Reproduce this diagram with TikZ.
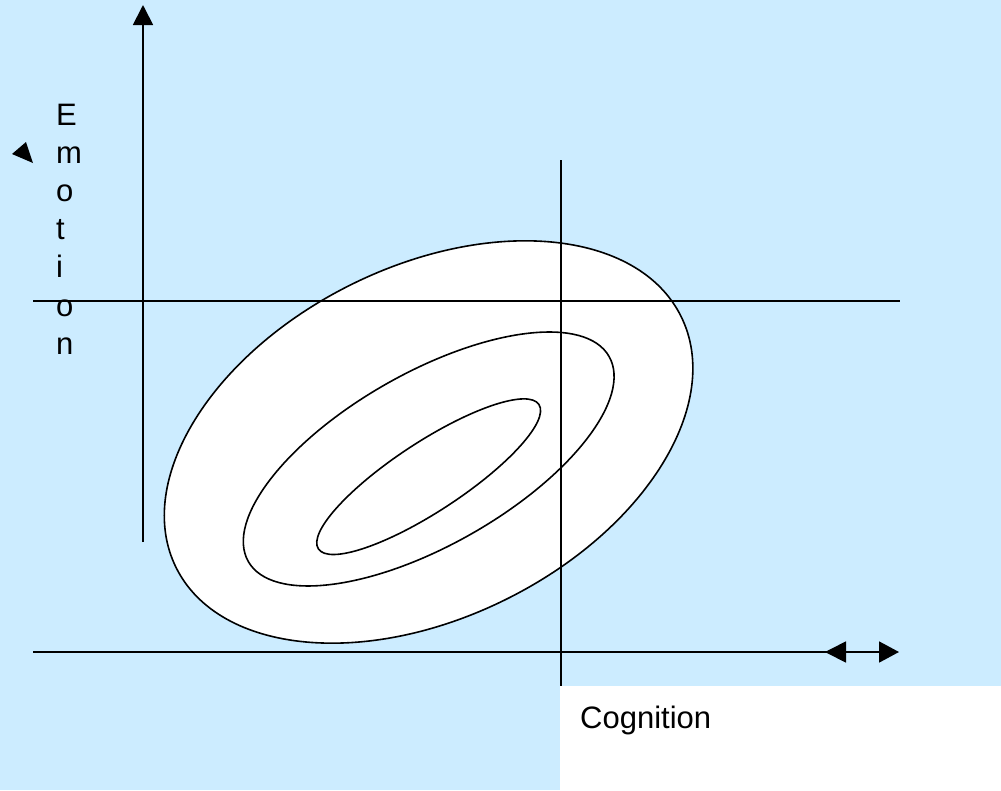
\documentclass[tikz,border=0pt]{standalone}
\usepackage{fontspec}
\setmainfont{Liberation Sans}
\usetikzlibrary{arrows.meta}
\definecolor{bgblue}{RGB}{204,236,255}
\tikzset{
  axisline/.style={line width=1.8pt, black},
  tri/.style={-{Triangle[length=20pt,width=20pt]}},
  ring/.style={line width=1.6pt, draw=black, fill=white},
  lbl/.style={font=\fontsize{31}{36}\selectfont, inner sep=0pt, anchor=base west},
}
\begin{document}
\begin{tikzpicture}[x=1pt,y=-1pt]
\useasboundingbox (0,0) rectangle (1001,790);
\fill[bgblue] (0,0) rectangle (1001,790);
% ellipses
\coordinate (c1) at (428.6,442);
\coordinate (c2) at (428.7,459);
\coordinate (c3) at (428.7,476.7);
\draw[ring, rotate around={26.5:(c1)}] (c1) ellipse [x radius=282pt, y radius=175.4pt];
\draw[ring, rotate around={29.6:(c2)}] (c2) ellipse [x radius=207.5pt, y radius=86.2pt];
\draw[ring, rotate around={33.2:(c3)}] (c3) ellipse [x radius=131.8pt, y radius=34.7pt];
% axes and lines
\coordinate (va0) at (143,542);
\coordinate (va1) at (143,5);
\draw[axisline, tri] (va0) -- (va1);
\coordinate (h1a) at (33,301);
\coordinate (h1b) at (900,301);
\draw[axisline] (h1a) -- (h1b);
\coordinate (v2a) at (561,160);
\coordinate (v2b) at (561,686);
\draw[axisline] (v2a) -- (v2b);
\coordinate (h2a) at (33,652);
\coordinate (h2b) at (846,652);
\draw[axisline] (h2a) -- (h2b);
\coordinate (ar1) at (825,652);
\coordinate (ar2) at (899,652);
\draw[axisline, {Triangle[length=21pt,width=21pt]}-{Triangle[length=20pt,width=21pt]}] (ar1) -- (ar2);
% stray arrowhead
\fill[black] (12,154) -- (26,142) -- (33,163) -- cycle;
% emotion label
\foreach \ch [count=\i from 0] in {E,m,o,t,i,o,n} {
  \node[lbl] (e\i) at (56,125+38.2*\i) {\ch};
}
% cognition box
\node[fill=white, minimum width=441pt, minimum height=104pt, inner sep=0pt, anchor=north west] (cogbox) at (560,686) {};
\node[lbl] (cog) at (580,728.3) {Cognition};
\end{tikzpicture}
\end{document}
